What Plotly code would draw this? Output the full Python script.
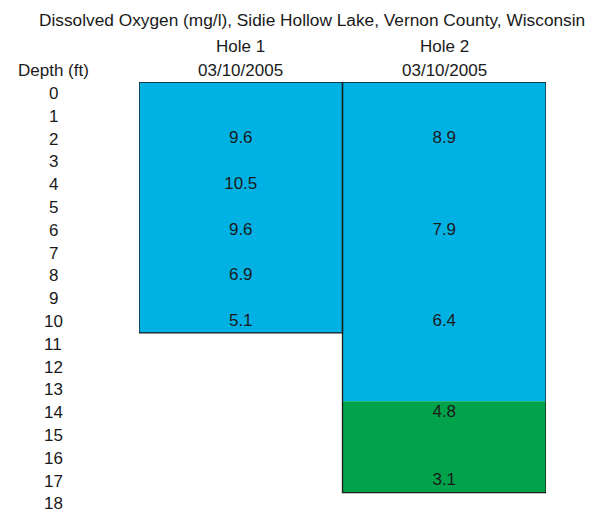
import plotly.graph_objects as go

title = "Dissolved Oxygen (mg/l), Sidie Hollow Lake, Vernon County, Wisconsin"
holes = ["Hole 1", "Hole 2"]
dates = ["03/10/2005", "03/10/2005"]
depths = list(range(0, 19))
hole_max_depth = [10, 17]
# colored zones per hole: (hole index, start depth, end depth, color)
zone_hole = [0, 1, 1]
zone_start = [0, 0, 14]
zone_end = [10, 13, 17]
zone_color = ["#00B2E4", "#00B2E4", "#00A34B"]
# measured values
h1_depth = [2, 4, 6, 8, 10]
h1_val = ["9.6", "10.5", "9.6", "6.9", "5.1"]
h2_depth = [2, 6, 10, 14, 17]
h2_val = ["8.9", "7.9", "6.4", "4.8", "3.1"]

FONT = "Liberation Sans, Arial, sans-serif"
FS = 17
TXT = "#1a1a1a"
fig = go.Figure()

for h, s, e, c in zip(zone_hole, zone_start, zone_end, zone_color):
    fig.add_trace(go.Bar(x=[h], y=[e - s + 1], base=[s - 0.5], width=[1.0],
                         marker=dict(color=c, line=dict(width=0)),
                         showlegend=False, hoverinfo="skip"))

# outlines
for h, md in enumerate(hole_max_depth):
    fig.add_trace(go.Bar(x=[h], y=[md + 1], base=[-0.5], width=[1.0],
                         marker=dict(color="rgba(0,0,0,0)", line=dict(width=1.3, color="#1a1a1a")),
                         showlegend=False, hoverinfo="skip"))

fig.add_trace(go.Scatter(x=[0] * len(h1_depth), y=h1_depth, text=h1_val, mode="text",
                         textfont=dict(family=FONT, size=FS, color=TXT), showlegend=False))
fig.add_trace(go.Scatter(x=[1] * len(h2_depth), y=h2_depth, text=h2_val, mode="text",
                         textfont=dict(family=FONT, size=FS, color=TXT), showlegend=False))

annotations = []
for d in depths:
    annotations.append(dict(x=-0.2113, xref="paper", y=d, yref="y", text=str(d),
                            showarrow=False, xanchor="center", yanchor="middle",
                            yshift=1 if d == depths[-1] else 0,
                            font=dict(family=FONT, size=FS, color=TXT)))
annotations.append(dict(x=-0.2113, xref="paper", y=1.0279, yref="paper", text="Depth (ft)",
                        showarrow=False, xanchor="center", yanchor="middle",
                        font=dict(family=FONT, size=FS, color=TXT)))
for i, (hname, dt) in enumerate(zip(holes, dates)):
    xp = 0.25 + 0.5 * i
    annotations.append(dict(x=xp, xref="paper", y=1.0814, yref="paper", text=hname, showarrow=False,
                            xanchor="center", yanchor="middle",
                            font=dict(family=FONT, size=FS, color=TXT)))
    annotations.append(dict(x=xp, xref="paper", y=1.0279, yref="paper", text=dt, showarrow=False,
                            xanchor="center", yanchor="middle",
                            font=dict(family=FONT, size=FS, color=TXT)))
annotations.append(dict(x=0.425, xref="paper", y=1.1442, yref="paper", text=title,
                        showarrow=False, xanchor="center", yanchor="middle",
                        font=dict(family=FONT, size=17.3, color=TXT)))

fig.update_layout(
    width=592, height=504,
    margin=dict(l=131, r=54, t=74, b=0),
    paper_bgcolor="white", plot_bgcolor="white",
    barmode="overlay",
    xaxis=dict(range=[-0.5, 1.5], visible=False, fixedrange=True),
    yaxis=dict(range=[18.35, -0.5], visible=False, fixedrange=True),
    annotations=annotations,
)

fig.write_html("out.html")
